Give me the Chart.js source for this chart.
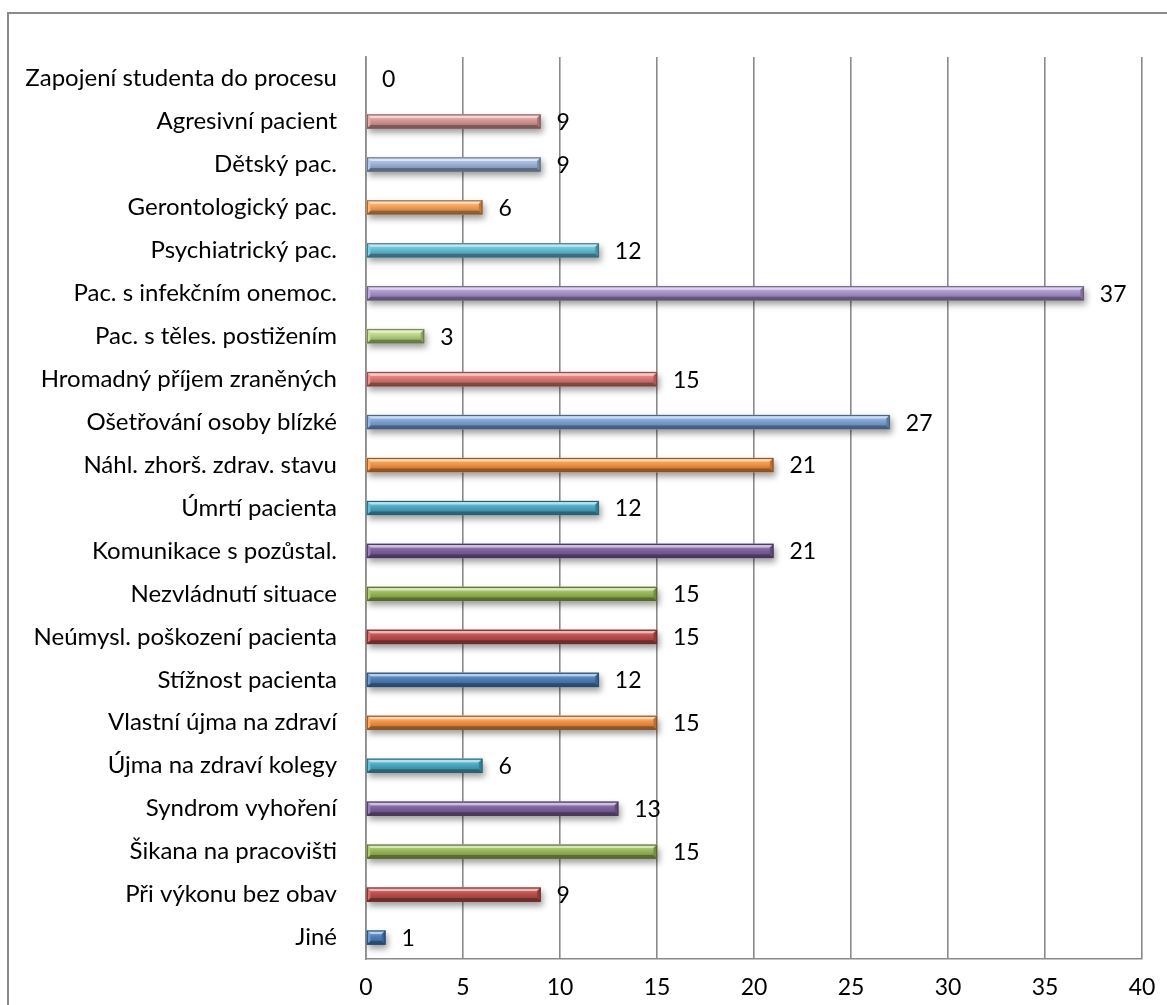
<!DOCTYPE html>
<html>
<head>
<meta charset="utf-8">
<script src="https://cdn.jsdelivr.net/npm/chart.js@4/dist/chart.umd.min.js"></script>
<style>
  html, body { margin: 0; padding: 0; background: #fff; }
  #wrap { position: relative; width: 1167px; height: 1005px; }
</style>
</head>
<body>
<div id="wrap"><canvas id="c" width="1167" height="1005"></canvas></div>
<script>
// Categories, listed from the top row to the bottom row
const categories = [
  'Zapojení studenta do procesu',
  'Agresivní pacient',
  'Dětský pac.',
  'Gerontologický pac.',
  'Psychiatrický pac.',
  'Pac. s infekčním onemoc.',
  'Pac. s těles. postižením',
  'Hromadný příjem zraněných',
  'Ošetřování osoby blízké',
  'Náhl. zhorš. zdrav. stavu',
  'Úmrtí pacienta',
  'Komunikace s pozůstal.',
  'Nezvládnutí situace',
  'Neúmysl. poškození pacienta',
  'Stížnost pacienta',
  'Vlastní újma na zdraví',
  'Újma na zdraví kolegy',
  'Syndrom vyhoření',
  'Šikana na pracovišti',
  'Při výkonu bez obav',
  'Jiné'
];

const counts = [0, 9, 9, 6, 12, 37, 3, 15, 27, 21, 12, 21, 15, 15, 12, 15, 6, 13, 15, 9, 1];

const barColors = [
  '#C4D89A', '#DA9A98', '#A2B9DE', '#F8A45C', '#66C0D8', '#AC96D0', '#BBD784',
  '#E07A77', '#7FA6D9', '#F79646', '#4BACC6', '#8064A2', '#9BBB59', '#C0504D',
  '#4F81BD', '#F79646', '#4BACC6', '#8064A2', '#9BBB59', '#C0504D', '#4F81BD'
];

const xTicks = [0, 5, 10, 15, 20, 25, 30, 35, 40];

const FONT = 'Lato, "Open Sans", "Liberation Sans", sans-serif';

function mix(hex, target, t) {
  const n = parseInt(hex.slice(1), 16);
  const r = (n >> 16) & 255, g = (n >> 8) & 255, b = n & 255;
  const m = c => Math.round(c + (target - c) * t);
  return `rgb(${m(r)},${m(g)},${m(b)})`;
}
const tint = (h, t) => mix(h, 255, t);
const shade = (h, t) => mix(h, 0, t);

// Outer frame (only its top and left edges fall inside the canvas)
const framePlugin = {
  id: 'frame',
  beforeDraw(chart) {
    const ctx = chart.ctx;
    ctx.save();
    ctx.strokeStyle = '#8a8a8a';
    ctx.lineWidth = 2;
    ctx.beginPath();
    ctx.moveTo(8, chart.height + 5);
    ctx.lineTo(8, 13);
    ctx.lineTo(chart.width + 5, 13);
    ctx.stroke();
    ctx.restore();
  }
};

// Soft drop shadow under the bars
const shadowPlugin = {
  id: 'barShadow',
  beforeDatasetDraw(chart) {
    const ctx = chart.ctx;
    ctx.save();
    ctx.shadowColor = 'rgba(0,0,0,0.38)';
    ctx.shadowBlur = 6;
    ctx.shadowOffsetX = 2;
    ctx.shadowOffsetY = 4;
  },
  afterDatasetDraw(chart) {
    chart.ctx.restore();
  }
};

// Bevelled edges on each bar, following the bar element geometry
const bevelPlugin = {
  id: 'bevel',
  afterDatasetsDraw(chart) {
    const ctx = chart.ctx;
    const meta = chart.getDatasetMeta(0);
    meta.data.forEach((el, i) => {
      const p = el.getProps(['x', 'y', 'base', 'height'], true);
      const left = Math.min(p.base, p.x), right = Math.max(p.base, p.x);
      const w = right - left;
      if (w < 1) return;
      const top = p.y - p.height / 2, bottom = p.y + p.height / 2;
      const col = barColors[i];
      const b = Math.min(3.5, w / 2);
      ctx.save();
      const g = ctx.createLinearGradient(0, top, 0, bottom);
      g.addColorStop(0, tint(col, 0.4));
      g.addColorStop(0.4, col);
      g.addColorStop(1, shade(col, 0.3));
      ctx.fillStyle = g;
      ctx.fillRect(left, top, w, p.height);
      const poly = (pts, fill) => {
        ctx.beginPath();
        ctx.moveTo(pts[0][0], pts[0][1]);
        for (let k = 1; k < pts.length; k++) ctx.lineTo(pts[k][0], pts[k][1]);
        ctx.closePath();
        ctx.fillStyle = fill;
        ctx.fill();
      };
      poly([[left, top], [right, top], [right - b, top + b], [left + b, top + b]], tint(col, 0.6));
      poly([[left, bottom], [right, bottom], [right - b, bottom - b], [left + b, bottom - b]], shade(col, 0.42));
      poly([[right, top], [right, bottom], [right - b, bottom - b], [right - b, top + b]], shade(col, 0.25));
      poly([[left, top], [left, bottom], [left + b, bottom - b], [left + b, top + b]], tint(col, 0.2));
      ctx.strokeStyle = shade(col, 0.45);
      ctx.lineWidth = 1;
      ctx.strokeRect(left + 0.5, top + 0.5, w - 1, p.height - 1);
      ctx.restore();
    });
  }
};

// Value labels to the right of each bar
const valueLabelPlugin = {
  id: 'valueLabels',
  afterDatasetsDraw(chart) {
    const ctx = chart.ctx;
    const ds = chart.data.datasets[0];
    const meta = chart.getDatasetMeta(0);
    ctx.save();
    ctx.font = '23px ' + FONT;
    ctx.fillStyle = '#000';
    ctx.textAlign = 'left';
    ctx.textBaseline = 'middle';
    meta.data.forEach((el, i) => {
      const p = el.getProps(['x', 'y'], true);
      ctx.fillText(String(ds.data[i]), p.x + 16, p.y + 1);
    });
    ctx.restore();
  }
};

new Chart(document.getElementById('c'), {
  type: 'bar',
  data: {
    labels: categories,
    datasets: [{
      data: counts,
      backgroundColor: ctx => (counts[ctx.dataIndex] > 0 ? barColors[ctx.dataIndex] : 'rgba(0,0,0,0)'),
      borderWidth: 0,
      barThickness: 14
    }]
  },
  options: {
    indexAxis: 'y',
    responsive: false,
    animation: false,
    events: [],
    layout: { padding: { top: 57, right: 25, bottom: 0, left: 0 } },
    plugins: { legend: { display: false }, tooltip: { enabled: false } },
    scales: {
      x: {
        min: 0,
        max: 40,
        afterBuildTicks(scale) { scale.ticks = xTicks.map(v => ({ value: v })); },
        afterFit(scale) {
          scale.height = 46;
          scale.paddingLeft = 0;
          scale.paddingRight = 0;
        },
        grid: { color: '#8a8a8a', lineWidth: 1.6, drawTicks: false },
        border: { color: '#8a8a8a', width: 1.6 },
        ticks: { color: '#000', padding: 15, font: { family: FONT, size: 23 } }
      },
      y: {
        afterFit(scale) { scale.width = 366; },
        grid: { display: false, drawTicks: false },
        border: { color: '#8a8a8a', width: 1.6 },
        ticks: { color: '#000', padding: 29, autoSkip: false, font: { family: FONT, size: 24 } }
      }
    }
  },
  plugins: [framePlugin, shadowPlugin, bevelPlugin, valueLabelPlugin]
});
</script>
</body>
</html>
